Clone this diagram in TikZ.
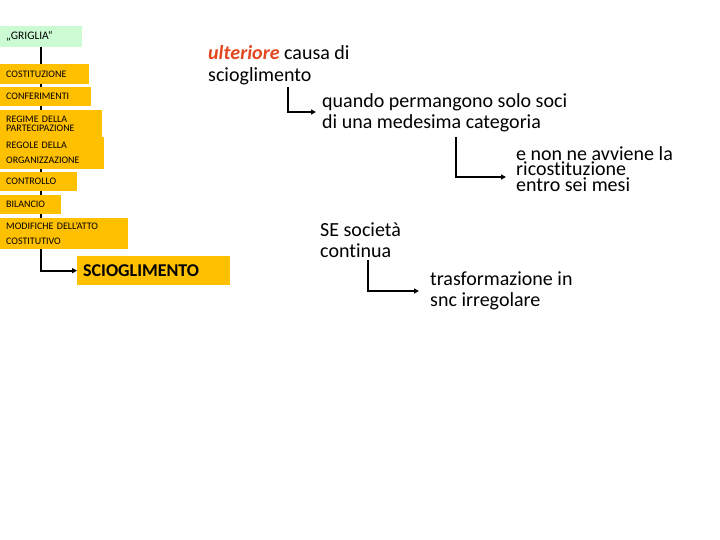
\documentclass[tikz,border=0pt]{standalone}
\usepackage{fontspec}
\setmainfont{Carlito}[Ligatures=NoCommon]
\usetikzlibrary{backgrounds,calc,arrows.meta}
\definecolor{gold}{RGB}{255,192,0}
\definecolor{mint}{RGB}{204,250,210}
\definecolor{redor}{RGB}{226,70,30}
\tikzset{
  box/.style={fill=gold, anchor=north west, inner xsep=6pt, inner ysep=0pt, align=left,
    font=\fontsize{10}{9.5}\selectfont},
  txt/.style={anchor=west, inner sep=0pt, align=left, font=\fontsize{20}{21.5}\selectfont},
  conn/.style={draw=black, line width=1.6pt, -{Triangle[length=5pt,width=5pt]}},
  stem/.style={draw=black, line width=1.6pt},
}
\begin{document}
\begin{tikzpicture}[x=1pt,y=-1pt]
\useasboundingbox (0,0) rectangle (720,540);
\node[box, fill=mint, minimum height=21pt, text width=70pt, font=\fontsize{11.5}{12}\selectfont] (griglia) at (0,26) {„GRIGLIA“};
\node[box, minimum height=20pt, text width=77pt] (cost) at (0,64) {COSTITUZIONE};
\node[box, minimum height=19pt, text width=79pt] (conf) at (0,87) {CONFERIMENTI};
\node[box, minimum height=27pt, text width=90pt] (regime) at (0,110) {REGIME DELLA\\PARTECIPAZIONE};
\node[box, minimum height=32pt, text width=92pt, font=\fontsize{10}{15}\selectfont] (regole) at (0,137) {REGOLE DELLA\\ORGANIZZAZIONE};
\node[box, minimum height=19pt, text width=65pt] (contr) at (0,172) {CONTROLLO};
\node[box, minimum height=19pt, text width=49pt] (bil) at (0,195) {BILANCIO};
\node[box, minimum height=31pt, text width=116pt, font=\fontsize{10}{15}\selectfont] (modif) at (0,218) {MODIFICHE DELL'ATTO\\COSTITUTIVO};
\node[box, minimum height=29pt, text width=141pt, font=\fontsize{18}{18}\selectfont\bfseries] (scio) at (77,256) {SCIOGLIMENTO};
\begin{scope}[on background layer]
  \draw[stem] (griglia.south) -- (griglia.south |- modif.south);
\end{scope}
\draw[conn] (griglia.south |- modif.south) |- (scio.west);

\node[txt] (ult) at (208,65) {\textcolor{redor}{\textbf{\textit{ulteriore}}} causa di\\scioglimento};
\node[txt] (quando) at (322,113) {quando permangono solo soci\\di una medesima categoria};
\node[txt, font=\fontsize{20}{15.5}\selectfont] (enon) at (516,169) {e non ne avviene la\\ricostituzione\\entro sei mesi};
\node[txt] (se) at (320,240) {SE società\\continua};
\node[txt] (trasf) at (430,291) {trasformazione in\\snc irregolare};

\coordinate (s1) at (288,87);
\coordinate (s2) at (456,137);
\coordinate (s3) at (368,260);
\draw[conn] (s1) |- ($(quando.west)+(-6,-1)$);
\draw[conn] (s2) |- ($(enon.west)+(-10,8)$);
\draw[conn] (s3) |- ($(trasf.west)+(-11,0)$);
\end{tikzpicture}
\end{document}
